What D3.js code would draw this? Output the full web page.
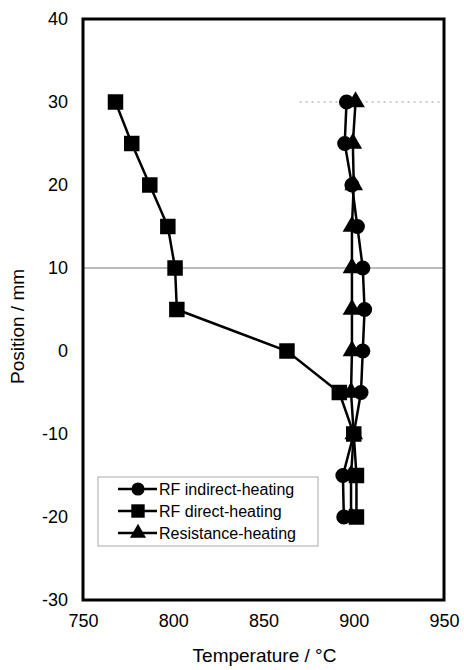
<!DOCTYPE html>
<html>
<head>
<meta charset="utf-8">
<script src="https://cdn.jsdelivr.net/npm/d3@7"></script>
<style>
  body { margin: 0; background: #fff; }
  text { font-family: "Liberation Sans", Arial, sans-serif; fill: #000; }
</style>
</head>
<body>
<div id="chart"></div>
<script>
/* DATA */
const positions = [30, 25, 20, 15, 10, 5, 0, -5, -10, -15, -20];
const rfIndirect = [896, 895, 899, 902, 905, 906, 905, 904, 900, 894, 894.5];
const rfDirect = [768, 777, 787, 797, 801, 802, 863, 892, 900, 901.5, 901.5];
const resistance = [901, 899.5, 900, 899, 899, 899, 899, 898.5, 900, 898.5, 898.5];
const seriesNames = ["RF indirect-heating", "RF direct-heating", "Resistance-heating"];
const xTicks = [750, 800, 850, 900, 950];
const yTicks = [-30, -20, -10, 0, 10, 20, 30, 40];

/* LAYOUT */
const width = 464, height = 670;
const margin = { top: 19, right: 20, bottom: 70, left: 83 };

const svg = d3.select("#chart").append("svg")
  .attr("width", width)
  .attr("height", height);

const x = d3.scaleLinear().domain([750, 950]).range([margin.left, width - margin.right]);
const y = d3.scaleLinear().domain([-30, 40]).range([height - margin.bottom, margin.top]);

// reference lines seen in the scan
svg.append("line")
  .attr("x1", x(750)).attr("x2", x(950))
  .attr("y1", y(10)).attr("y2", y(10))
  .attr("stroke", "#777").attr("stroke-width", 1);
svg.append("line")
  .attr("x1", x(870)).attr("x2", x(950))
  .attr("y1", y(30)).attr("y2", y(30))
  .attr("stroke", "#999").attr("stroke-width", 1)
  .attr("stroke-dasharray", "2,4");

// axes (plain hyphen for negatives, as in the original)
const xAxis = d3.axisBottom(x).tickValues(xTicks).tickSize(0).tickPadding(14)
  .tickFormat(d => String(d));
const yAxis = d3.axisLeft(y).tickValues(yTicks).tickSize(0).tickPadding(15)
  .tickFormat(d => String(d));

const gx = svg.append("g")
  .attr("transform", `translate(0,${y(-30)})`)
  .call(xAxis);
const gy = svg.append("g")
  .attr("transform", `translate(${x(750)},0)`)
  .call(yAxis);

[gx, gy].forEach(g => {
  g.select(".domain").remove();
  g.selectAll("text").style("font-size", "18px").style("font-family", "'Liberation Sans', Arial, sans-serif");
});

// frame
svg.append("rect")
  .attr("x", x(750)).attr("y", y(40))
  .attr("width", x(950) - x(750)).attr("height", y(-30) - y(40))
  .attr("fill", "none").attr("stroke", "#000").attr("stroke-width", 3);

// axis titles
svg.append("text")
  .attr("x", (x(750) + x(950)) / 2 + 1)
  .attr("y", height - 8)
  .attr("text-anchor", "middle")
  .style("font-size", "19px")
  .text("Temperature / °C");

svg.append("text")
  .attr("transform", `translate(24,${(y(40) + y(-30)) / 2 + 17}) rotate(-90)`)
  .attr("text-anchor", "middle")
  .style("font-size", "19px")
  .text("Position / mm");

/* SERIES */
const series = [
  { name: seriesNames[0], values: rfIndirect, symbol: d3.symbolCircle, size: 180 },
  { name: seriesNames[1], values: rfDirect, symbol: d3.symbolSquare, size: 240 },
  { name: seriesNames[2], values: resistance, symbol: d3.symbolTriangle, size: 150 },
];

const line = d3.line()
  .x(d => x(d.t))
  .y(d => y(d.p));

series.forEach(s => {
  const pts = positions.map((p, i) => ({ p: p, t: s.values[i] }));
  svg.append("path")
    .datum(pts)
    .attr("d", line)
    .attr("fill", "none")
    .attr("stroke", "#000")
    .attr("stroke-width", 2.5);
  svg.selectAll(null)
    .data(pts)
    .join("path")
    .attr("transform", d => `translate(${x(d.t)},${y(d.p)})`)
    .attr("d", d3.symbol().type(s.symbol).size(s.size))
    .attr("fill", "#000");
});

/* LEGEND */
const legend = svg.append("g").attr("transform", "translate(98,477)");
legend.append("rect")
  .attr("width", 220).attr("height", 69)
  .attr("fill", "#fff")
  .attr("stroke", "#aaa").attr("stroke-width", 1);

series.forEach((s, i) => {
  const row = legend.append("g").attr("transform", `translate(0,${12 + i * 22})`);
  row.append("line")
    .attr("x1", 20).attr("x2", 59)
    .attr("stroke", "#000").attr("stroke-width", 2.5);
  row.append("path")
    .attr("transform", "translate(40,0)")
    .attr("d", d3.symbol().type(s.symbol).size(s.size * 0.75))
    .attr("fill", "#000");
  row.append("text")
    .attr("x", 61)
    .attr("dy", "0.35em")
    .style("font-size", "16px")
    .text(s.name);
});
</script>
</body>
</html>
